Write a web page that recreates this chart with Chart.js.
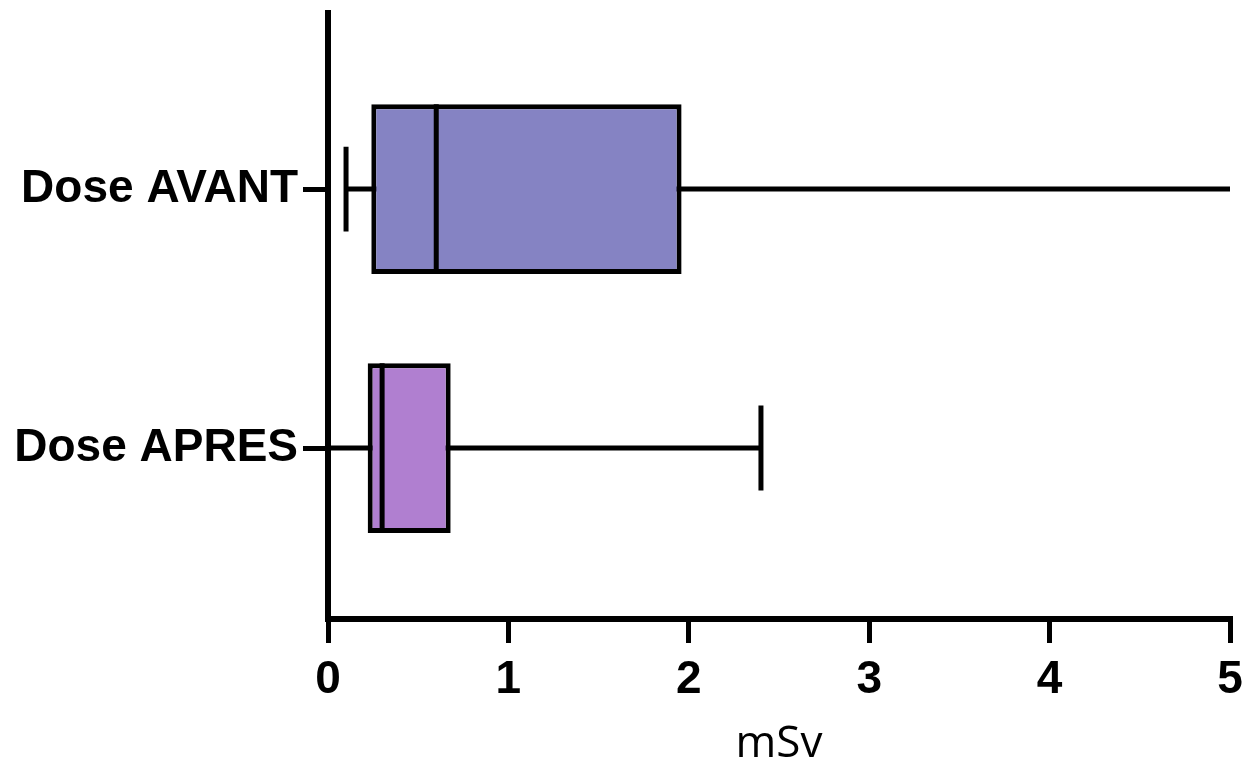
<!DOCTYPE html>
<html>
<head>
<meta charset="utf-8">
<script src="https://cdn.jsdelivr.net/npm/chart.js@4.4.1/dist/chart.umd.min.js"></script>
<style>
    html, body { margin: 0; padding: 0; background: #fff; }
    #wrap { width: 1247px; height: 771px; }
</style>
</head>
<body>
<div id="wrap"><canvas id="boxChart"></canvas></div>
<script>
// Box plot values (mSv)
const categories = ["Dose AVANT", "Dose APRES"];
const minValues = [0.10, 0.00];
const q1Values = [0.24, 0.22];
const medianValues = [0.60, 0.30];
const q3Values = [1.96, 0.68];
const maxValues = [5.00, 2.40]; // AVANT whisker runs to the end of the axis
const boxColors = ["#8583C3", "#B07FD0"];
const xTicks = [0, 1, 2, 3, 4, 5];

// whiskers under the boxes, medians on top
const boxWhiskers = {
    id: "boxWhiskers",
    beforeDatasetsDraw(chart) {
        const { ctx, chartArea, scales: { x } } = chart;
        const meta = chart.getDatasetMeta(0);
        ctx.save();
        ctx.beginPath();
        ctx.rect(chartArea.left - 3, chartArea.top, chartArea.width + 5, chartArea.height);
        ctx.clip();
        ctx.strokeStyle = "#000";
        ctx.lineWidth = 5;
        meta.data.forEach((bar, i) => {
            const y = bar.y;
            const half = bar.height / 4;
            const xMin = x.getPixelForValue(minValues[i]);
            const xMax = x.getPixelForValue(maxValues[i]);
            ctx.beginPath();
            ctx.moveTo(xMin, y);
            ctx.lineTo(xMax, y);
            if (minValues[i] > x.min) {
                ctx.moveTo(xMin, y - half);
                ctx.lineTo(xMin, y + half);
            }
            if (maxValues[i] < x.max) {
                ctx.moveTo(xMax, y - half);
                ctx.lineTo(xMax, y + half);
            }
            ctx.stroke();
        });
        ctx.restore();
    },
    afterDatasetsDraw(chart) {
        const { ctx, scales: { x } } = chart;
        const meta = chart.getDatasetMeta(0);
        ctx.save();
        ctx.strokeStyle = "#000";
        ctx.lineWidth = 5;
        meta.data.forEach((bar, i) => {
            const xm = x.getPixelForValue(medianValues[i]);
            ctx.beginPath();
            ctx.moveTo(xm, bar.y - bar.height / 2);
            ctx.lineTo(xm, bar.y + bar.height / 2);
            ctx.stroke();
        });
        ctx.restore();
    }
};

const ctx = document.getElementById("boxChart").getContext("2d");

new Chart(ctx, {
    type: "bar",
    data: {
        datasets: [{
            data: categories.map((c, i) => ({ x: [q1Values[i], q3Values[i]], y: i })),
            backgroundColor: boxColors,
            borderColor: "#000",
            borderWidth: 5,
            borderSkipped: false,
            barPercentage: 0.82,
            categoryPercentage: 0.8
        }]
    },
    options: {
        indexAxis: "y",
        responsive: true,
        maintainAspectRatio: false,
        animation: false,
        layout: { padding: { top: 13, right: 17, left: 0, bottom: 0 } },
        plugins: {
            legend: { display: false },
            tooltip: { enabled: false }
        },
        scales: {
            x: {
                type: "linear",
                min: 0,
                max: 5,
                afterBuildTicks: scale => { scale.ticks = xTicks.map(v => ({ value: v })); },
                afterFit: scale => {
                    scale.height = 152;
                    scale.paddingLeft = 0;
                    scale.paddingRight = 0;
                },
                ticks: {
                    color: "#000",
                    padding: 10,
                    font: { family: "Liberation Sans, Arial", size: 46, weight: "bold" }
                },
                border: { display: true, color: "#000", width: 6 },
                grid: { drawOnChartArea: false, tickLength: 24, lineWidth: 5, color: "#000" },
                title: {
                    display: true,
                    text: "mSv",
                    color: "#000",
                    padding: { top: 0, bottom: 0 },
                    font: { family: "Open Sans", size: 44, weight: "normal" }
                }
            },
            y: {
                type: "linear",
                reverse: true,
                offset: false,
                min: -0.68,
                max: 1.66,
                afterBuildTicks: scale => { scale.ticks = categories.map((c, i) => ({ value: i })); },
                afterFit: scale => {
                    scale.width = 328;
                    scale.paddingTop = 0;
                    scale.paddingBottom = 0;
                },
                ticks: {
                    color: "#000",
                    padding: 5,
                    autoSkip: false,
                    callback: v => categories[v],
                    font: { family: "Liberation Sans, Arial", size: 46, weight: "bold" }
                },
                border: { display: true, color: "#000", width: 6 },
                grid: { offset: false, drawOnChartArea: false, tickLength: 25, lineWidth: 5, color: "#000" }
            }
        }
    },
    plugins: [boxWhiskers]
});
</script>
</body>
</html>
